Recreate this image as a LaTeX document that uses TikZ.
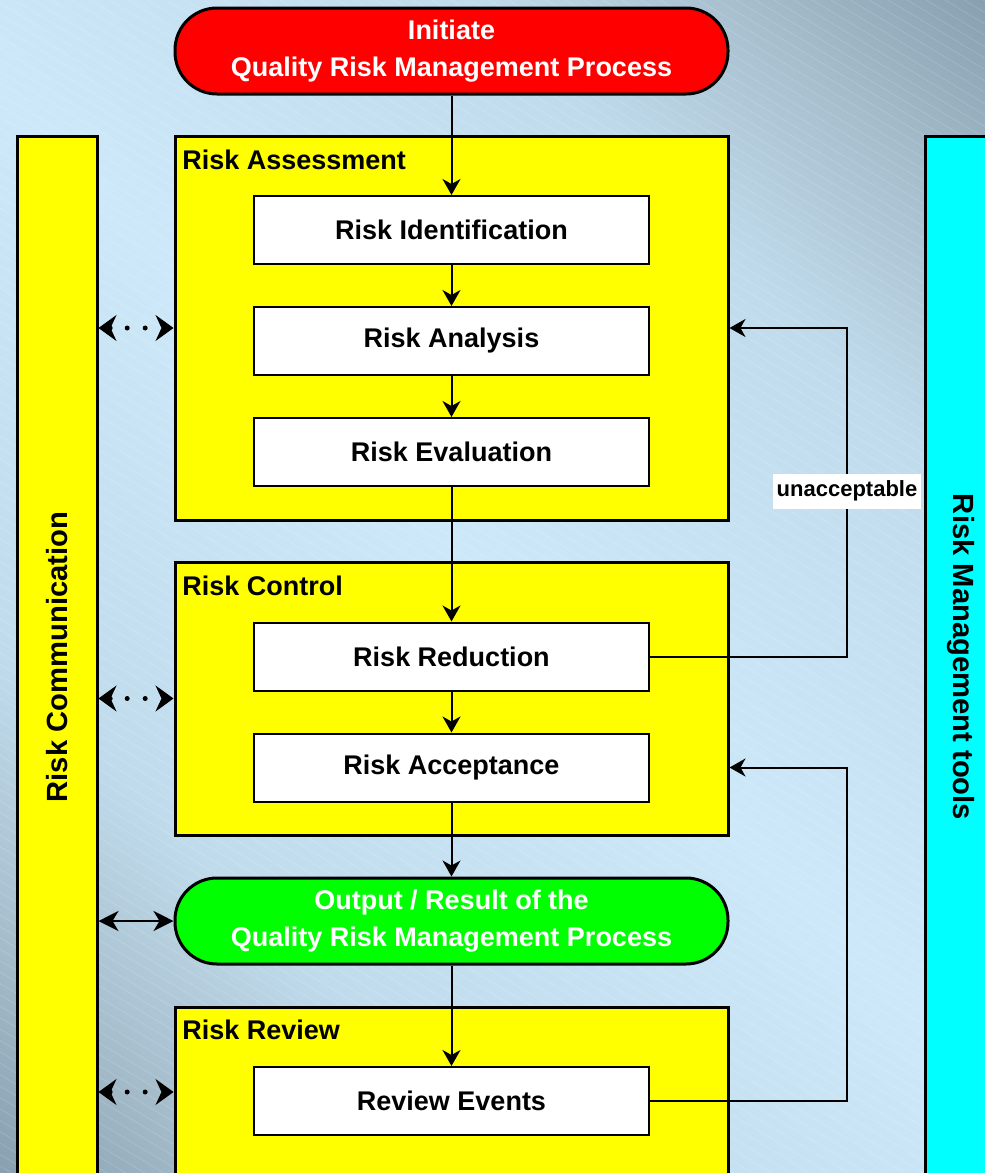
\documentclass[tikz,border=0pt]{standalone}
\usepackage{fontspec}
\setmainfont{Liberation Sans}
\usetikzlibrary{arrows.meta,fit,calc}

\definecolor{bggray}{HTML}{88A0B0}
\definecolor{bgmid}{HTML}{A5BCCB}
\definecolor{bglite}{HTML}{C0DCEC}
\definecolor{bglight}{HTML}{CDE9F9}
\definecolor{stageyellow}{HTML}{FFFF00}
\definecolor{toolcyan}{HTML}{00FFFF}
\definecolor{startred}{HTML}{FF0000}
\definecolor{endgreen}{HTML}{00FF00}

% diagonal backdrop: light along the main diagonal, grey towards two corners
\pgfdeclareverticalshading{bgdiag}{100bp}{%
  color(0bp)=(bggray); color(14.6bp)=(bggray); color(22bp)=(bgmid);
  color(31.6bp)=(bglite); color(50bp)=(bglight); color(68.4bp)=(bglite);
  color(78bp)=(bgmid); color(85.4bp)=(bggray); color(100bp)=(bggray)}

\newcommand\boxfont{\fontsize{13.5}{18.5}\selectfont\bfseries}
\newcommand\sidefont{\fontsize{14.6}{18}\selectfont\bfseries}
\newcommand\notefont{\fontsize{11}{13}\selectfont\bfseries}

\tikzset{
  stage/.style={draw, line width=1.5pt, fill=stageyellow, inner sep=0pt},
  stepbox/.style={draw, line width=1pt, fill=white, minimum width=197.5pt,
    minimum height=34pt, inner sep=0pt, font=\boxfont},
  pill/.style={draw, line width=1.5pt, rounded corners=21pt, inner sep=0pt,
    minimum width=276.5pt, minimum height=43pt,
    text=white, align=center, font=\boxfont},
  stagetitle/.style={anchor=base west, inner sep=0pt, font=\boxfont},
  flow/.style={line width=1pt, -{Stealth[length=8pt,width=9pt,inset=2.5pt]}},
  talk/.style={line width=2.5pt, line cap=round,
    dash pattern=on 0pt off 8.5pt on 0pt off 9pt on 0pt off 200pt,
    {Stealth[length=9pt,width=13pt,inset=3pt,line width=0.5pt]}-{Stealth[length=9pt,width=13pt,inset=3pt,line width=0.5pt]}},
  talksolid/.style={line width=1pt,
    {Stealth[length=10pt,width=10pt,inset=3pt]}-{Stealth[length=10pt,width=10pt,inset=3pt]}},
  note/.style={fill=white, inner xsep=2pt, inner ysep=0pt, minimum height=17.5pt, font=\notefont}
}

\begin{document}
\begin{tikzpicture}[x=0.5pt, y=-0.5pt]
  \useasboundingbox (0,0) rectangle (985,1173);
  \clip (0,0) rectangle (985,1173);

  % backdrop with faint diagonal hatching
  \shade[shading=bgdiag, shading angle=-45] (0,0) rectangle (985,1173);
  \foreach \k in {0,...,160}
    \draw[white, opacity=0.14, line width=0.4pt] ({-2000+\k*19},0) -- ++(1955,1173);

  % side columns
  \node[stage, fit={(17,136)(97,1178)}] (comm) {};
  \node[stage, fill=toolcyan, fit={(925,136)(1010,1178)}] (tools) {};
  \node[rotate=90, font=\sidefont] (commtext) at (57,657) {Risk Communication};
  \node[rotate=-90, font=\sidefont] (toolstext) at (961,657) {Risk Management tools};

  % start and result terminals
  \node[pill, fill=startred] (init) at (451.5,51)
    {Initiate\\Quality Risk Management Process};
  \node[pill, fill=endgreen] (output) at (451.5,921)
    {Output / Result of the\\Quality Risk Management Process};

  % stage frames
  \node[stage, fit={(175,136)(728,520)}] (assess) {};
  \node[stage, fit={(175,562)(728,835)}] (control) {};
  \node[stage, fit={(175,1007)(728,1177)}] (review) {};
  \node[stagetitle] (assesstitle) at (182,169) {Risk Assessment};
  \node[stagetitle] (controltitle) at (182,595) {Risk Control};
  \node[stagetitle] (reviewtitle) at (182,1039) {Risk Review};

  % process steps
  \node[stepbox] (ident)  at (451.5,230)   {Risk Identification};
  \node[stepbox] (anal)   at (451.5,341)   {Risk Analysis};
  \node[stepbox] (eval)   at (451.5,452)   {Risk Evaluation};
  \node[stepbox] (reduce) at (451.5,656.5) {Risk Reduction};
  \node[stepbox] (accept) at (451.5,767.5) {Risk Acceptance};
  \node[stepbox] (revev)  at (451.5,1101)  {Review Events};

  % main flow
  \draw[flow] (init) -- (ident);
  \draw[flow] (ident) -- (anal);
  \draw[flow] (anal) -- (eval);
  \draw[flow] (eval) -- (reduce);
  \draw[flow] (reduce) -- (accept);
  \draw[flow] (accept) -- (output);
  \draw[flow] (output) -- (revev);

  % feedback loops
  \coordinate (loopx) at (847,0);
  \draw[flow] (reduce.east) -| (loopx |- assess.east) -- (assess.east);
  \draw[flow] (revev.east) -| (loopx |- accept.east) -- (control.east |- accept.east);
  \node[note] (unacc) at (847,491) {unacceptable};

  % communication links
  \draw[talk] (comm.east |- assess.west) -- (assess.west);
  \draw[talk] (comm.east |- control.west) -- (control.west);
  \draw[talksolid] (comm.east |- output.west) -- (output.west);
  \draw[talk] (comm.east |- review.west) -- (review.west);
\end{tikzpicture}
\end{document}
